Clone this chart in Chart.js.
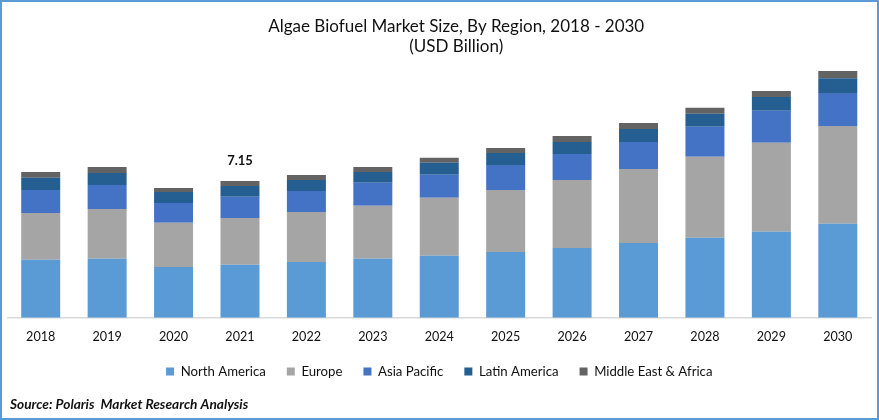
<!DOCTYPE html>
<html>
<head>
<meta charset="utf-8">
<script src="https://cdn.jsdelivr.net/npm/chart.js@4"></script>
<style>
html,body{margin:0;padding:0;background:#fff;}
#wrap{position:relative;width:879px;height:420px;overflow:hidden;}
#frame{position:absolute;left:0;top:0;width:879px;height:420px;box-sizing:border-box;border:2.4px solid #5b9bd5;pointer-events:none;}
canvas{position:absolute;left:0;top:0;}
</style>
</head>
<body>
<div id="wrap"><canvas id="c" width="879" height="420"></canvas><div id="frame"></div></div>
<script>
const categories = ["2018","2019","2020","2021","2022","2023","2024","2025","2026","2027","2028","2029","2030"];
const northAmerica = [3.03,3.08,2.66,2.77,2.92,3.08,3.24,3.44,3.65,3.91,4.18,4.49,4.91];
const europe = [2.45,2.61,2.30,2.45,2.61,2.77,3.03,3.24,3.55,3.86,4.23,4.65,5.11];
const asiaPacific = [1.20,1.25,1.04,1.10,1.10,1.20,1.20,1.30,1.36,1.41,1.57,1.67,1.72];
const latinAmerica = [0.63,0.63,0.57,0.57,0.57,0.57,0.63,0.63,0.63,0.68,0.68,0.73,0.78];
const middleEastAfrica = [0.31,0.31,0.21,0.26,0.26,0.26,0.26,0.26,0.31,0.31,0.31,0.31,0.37];
const titleLines = ["Algae Biofuel Market Size, By Region, 2018 - 2030","(USD Billion)"];
const sourceText = "Source: Polaris  Market Research Analysis";
const annotatedYear = "2021";
const annotatedText = "7.15";
const FONT = "Lato, Carlito, sans-serif";

const extras = {
  id:"extras",
  afterLayout(chart){
    chart.titleBlock.left += 34;
  },
  afterDraw(chart){
    const ctx = chart.ctx, x = chart.scales.x, y = chart.scales.y;
    const i = categories.indexOf(annotatedYear);
    const total = chart.data.datasets.reduce((s,d)=>s+d.data[i],0);
    ctx.save();
    ctx.fillStyle="#111";
    ctx.font="bold 13px "+FONT;
    ctx.textAlign="center";
    ctx.textBaseline="middle";
    ctx.fillText(annotatedText,x.getPixelForValue(i),y.getPixelForValue(total)-20);
    ctx.font="italic bold 13.7px "+FONT;
    ctx.textAlign="left";
    ctx.fillText(sourceText,10,404.5);
    ctx.restore();
  }
};

const mk=(label,data,color)=>({label,data,backgroundColor:color,borderWidth:0,stack:"s",barPercentage:1,categoryPercentage:0.587});

new Chart(document.getElementById("c"),{
  type:"bar",
  data:{labels:categories,datasets:[
    mk("North America",northAmerica,"#5b9bd5"),
    mk("Europe",europe,"#a5a5a5"),
    mk("Asia Pacific",asiaPacific,"#4472c4"),
    mk("Latin America",latinAmerica,"#255e91"),
    mk("Middle East & Africa",middleEastAfrica,"#636363")
  ]},
  plugins:[extras],
  options:{
    responsive:false,animation:false,devicePixelRatio:1,
    layout:{padding:{left:7.5,right:8,top:0,bottom:32}},
    scales:{
      x:{stacked:true,grid:{display:false,drawTicks:false},border:{color:"#d9d9d9",width:1.5},
         afterFit(s){s.height=26;},
         ticks:{color:"#111",font:{family:FONT,size:12.6},padding:12,maxRotation:0}},
      y:{stacked:true,display:false,min:0,max:13.2}
    },
    plugins:{
      title:{display:true,text:titleLines,color:"#111",font:{family:FONT,size:17,weight:"normal",lineHeight:1.18},padding:{top:16,bottom:9}},
      legend:{position:"bottom",labels:{color:"#111",font:{family:FONT,size:13.2},boxWidth:8,boxHeight:8,padding:21}},
      tooltip:{enabled:false}
    }
  }
});
</script>
</body>
</html>
